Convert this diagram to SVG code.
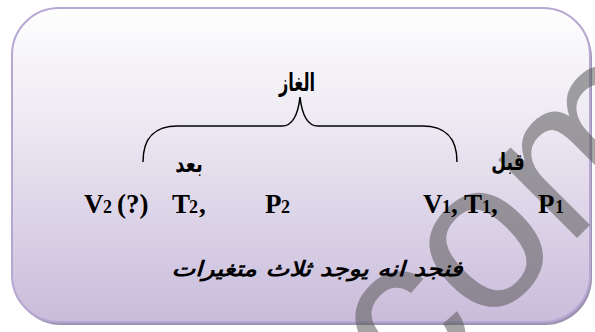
<svg xmlns="http://www.w3.org/2000/svg" width="595" height="332" viewBox="0 0 595 332">
<defs>
<linearGradient id="bg" x1="0" y1="0" x2="0" y2="1">
<stop offset="0" stop-color="#fefefe"/>
<stop offset="0.35" stop-color="#eeeaf3"/>
<stop offset="1" stop-color="#c9bcdb"/>
</linearGradient>
<style>
.lat{font-family:"Liberation Serif","Times New Roman",serif;font-weight:bold;fill:#000;font-size:27px}
.sub{font-size:18px}
.ar{font-family:"DejaVu Sans","Noto Sans",sans-serif;font-weight:bold;fill:#000;text-anchor:middle}
.brace{fill:none;stroke:#000;stroke-width:1.5}
</style>
</defs>
<g id="panel">
<rect x="14" y="11" width="578" height="314" rx="47" fill="#9d92b0"/>
<rect x="12" y="8" width="578" height="314" rx="47" fill="url(#bg)" stroke="#b5a7d2" stroke-width="2"/>
</g>
<g id="watermark">
<text transform="translate(410,405) rotate(-45)" font-family="Liberation Sans, Arial, sans-serif" font-size="210" fill="#5a5a5a" opacity="0.55">com</text>
</g>
<g id="connectors">
<path class="brace" d="M143,162 C143,140 152,126 178,126 L282,126 C292,126 298,115 300,97 C302,115 308,126 318,126 L422,126 C448,126 457,140 457,162"/>
</g>
<g id="gas"><text class="ar" transform="translate(297,91) scale(0.85,1.3)" font-size="19">الغاز</text></g>
<g id="after">
<text class="ar" transform="translate(189,172) scale(1,1.3)" font-size="18">بعد</text>
<text class="lat" y="213"><tspan x="84">V</tspan><tspan class="sub" x="103">2</tspan><tspan x="117">(?)</tspan><tspan x="172">T</tspan><tspan class="sub" x="189">2</tspan><tspan x="199">,</tspan><tspan x="265">P</tspan><tspan class="sub" x="281">2</tspan></text>
</g>
<g id="before">
<text class="ar" transform="translate(508,170) scale(0.95,1.3)" font-size="18">قبل</text>
<text class="lat" y="213"><tspan x="423">V</tspan><tspan class="sub" x="442">1</tspan><tspan x="451">,</tspan><tspan x="464">T</tspan><tspan class="sub" x="482">1</tspan><tspan x="491">,</tspan><tspan x="538">P</tspan><tspan class="sub" x="555">1</tspan></text>
</g>
<g id="conclusion"><text class="ar" x="317" y="276" font-size="21" font-style="italic" textLength="291" lengthAdjust="spacingAndGlyphs">فنجد انه يوجد ثلاث متغيرات</text></g>
</svg>
